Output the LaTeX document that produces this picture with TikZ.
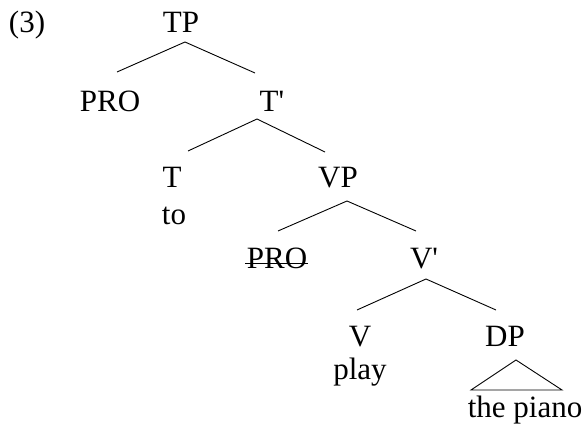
\documentclass[tikz,border=0pt]{standalone}
\usepackage{fontspec}
\setmainfont{Liberation Serif}
\begin{document}
\begin{tikzpicture}[x=1pt,y=-1pt,
  lbl/.style={anchor=base,inner sep=0pt,font=\fontsize{31}{36}\selectfont},
  branch/.style={line width=0.9pt,black}]
\useasboundingbox (0,0) rectangle (584,435);
\node[lbl] (ex) at (27,33) {(3)};
\node[lbl] (TP) at (181,33) {TP};
\node[lbl] (PROa) at (110,112) {PRO};
\node[lbl] (Tbar) at (272,112) {T\textquotesingle};
\node[lbl] (T) at (172,188) {T};
\node[lbl] (to) at (174,225) {to};
\node[lbl] (VP) at (338,188) {VP};
\node[lbl] (PROb) at (277,269) {PRO};
\node[lbl] (Vbar) at (424,269) {V\textquotesingle};
\node[lbl] (V) at (360,347) {V};
\node[lbl] (play) at (360,380) {play};
\node[lbl] (DP) at (505,347) {DP};
\node[lbl] (piano) at (525,418) {the piano};
% branches
\draw[branch] ([shift={(4,9)}]TP.base) -- ([shift={(7,-40)}]PROa.base);
\draw[branch] ([shift={(4,9)}]TP.base) -- ([shift={(-17,-39)}]Tbar.base);
\draw[branch] ([shift={(-15,7)}]Tbar.base) -- ([shift={(16,-37)}]T.base);
\draw[branch] ([shift={(-15,7)}]Tbar.base) -- ([shift={(-13,-36)}]VP.base);
\draw[branch] ([shift={(9,13)}]VP.base) -- ([shift={(1,-38)}]PROb.base);
\draw[branch] ([shift={(9,13)}]VP.base) -- ([shift={(-8,-38)}]Vbar.base);
\draw[branch] ([shift={(2,10)}]Vbar.base) -- ([shift={(-3,-37)}]V.base);
\draw[branch] ([shift={(2,10)}]Vbar.base) -- ([shift={(-9,-37)}]DP.base);
% triangle
\draw[branch] ([shift={(11,13)}]DP.base) -- ([shift={(-34,43)}]DP.base) -- ([shift={(57,43)}]DP.base) -- cycle;
% strike-through
\draw[branch] ([shift={(-32,-6)}]PROb.base) -- ([shift={(31,-6)}]PROb.base);
\end{tikzpicture}
\end{document}
